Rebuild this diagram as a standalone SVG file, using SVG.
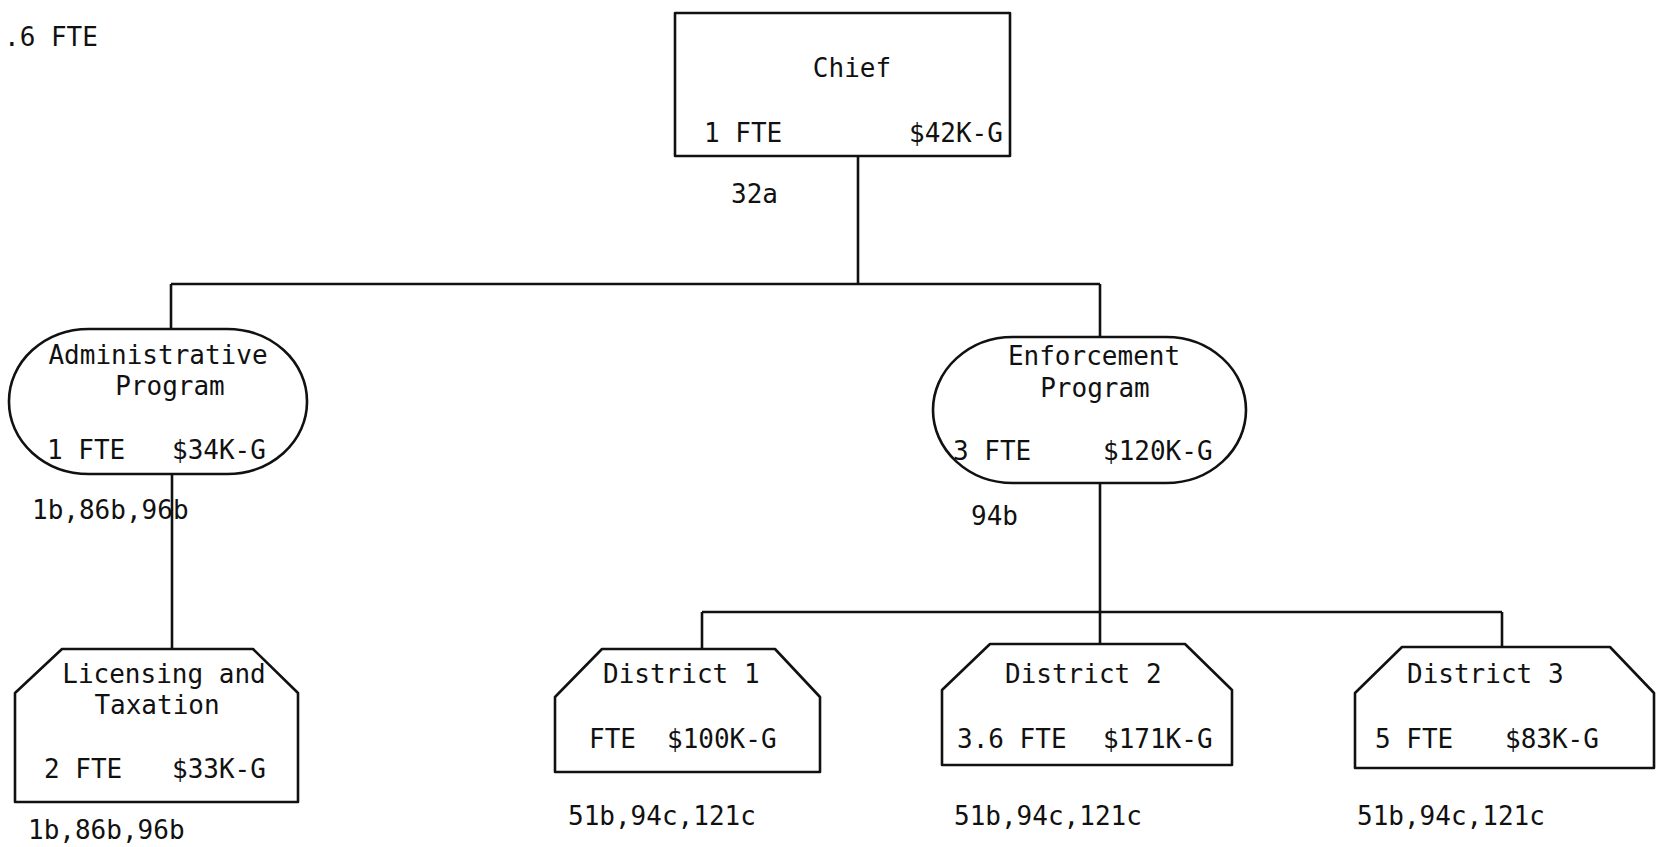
<svg xmlns="http://www.w3.org/2000/svg" width="1656" height="847" viewBox="0 0 1656 847">
<style>
.s{fill:none;stroke:#111;stroke-width:2.6;stroke-linejoin:round}
.c{fill:none;stroke:#111;stroke-width:2.6}
text{font-family:"DejaVu Sans Mono","Liberation Mono",monospace;font-size:26px;fill:#111}
.m{text-anchor:middle}
</style>
<rect width="1656" height="847" fill="#fff"/>
<text x="4" y="46">.6 FTE</text>
<g id="connectors">
<path class="c" d="M858 156V284M171 284H1100M171 284V329M1100 284V337M172 474V649M1100 483V612M702 612H1502M702 612V649M1100 612V644M1502 612V647"/>
</g>
<g id="chief">
<rect class="s" x="675" y="13" width="335" height="143"/>
<text x="852" y="77" class="m">Chief</text>
<text x="704" y="142">1 FTE</text>
<text x="909" y="142">$42K-G</text>
<text x="731" y="203">32a</text>
</g>
<g id="admin">
<rect class="s" x="9" y="329" width="298" height="145" rx="80" ry="72"/>
<text x="158" y="364" class="m">Administrative</text>
<text x="170" y="395" class="m">Program</text>
<text x="47" y="459">1 FTE</text>
<text x="172" y="459">$34K-G</text>
<text x="32" y="519">1b,86b,96b</text>
</g>
<g id="enforcement">
<rect class="s" x="933" y="337" width="313" height="146" rx="80" ry="73"/>
<text x="1094" y="365" class="m">Enforcement</text>
<text x="1095" y="397" class="m">Program</text>
<text x="953" y="460">3 FTE</text>
<text x="1103" y="460">$120K-G</text>
<text x="971" y="525">94b</text>
</g>
<g id="licensing">
<polygon class="s" points="62,649 253,649 298,693 298,802 15,802 15,693"/>
<text x="164" y="683" class="m">Licensing and</text>
<text x="157" y="714" class="m">Taxation</text>
<text x="44" y="778">2 FTE</text>
<text x="172" y="778">$33K-G</text>
<text x="28" y="839">1b,86b,96b</text>
</g>
<g id="district1">
<polygon class="s" points="602,649 775,649 820,697 820,772 555,772 555,697"/>
<text x="603" y="683">District 1</text>
<text x="589" y="748">FTE</text>
<text x="667" y="748">$100K-G</text>
<text x="568" y="825">51b,94c,121c</text>
</g>
<g id="district2">
<polygon class="s" points="990,644 1185,644 1232,690 1232,765 942,765 942,690"/>
<text x="1005" y="683">District 2</text>
<text x="957" y="748">3.6 FTE</text>
<text x="1103" y="748">$171K-G</text>
<text x="954" y="825">51b,94c,121c</text>
</g>
<g id="district3">
<polygon class="s" points="1402,647 1610,647 1654,693 1654,768 1355,768 1355,693"/>
<text x="1407" y="683">District 3</text>
<text x="1375" y="748">5 FTE</text>
<text x="1505" y="748">$83K-G</text>
<text x="1357" y="825">51b,94c,121c</text>
</g>
</svg>
